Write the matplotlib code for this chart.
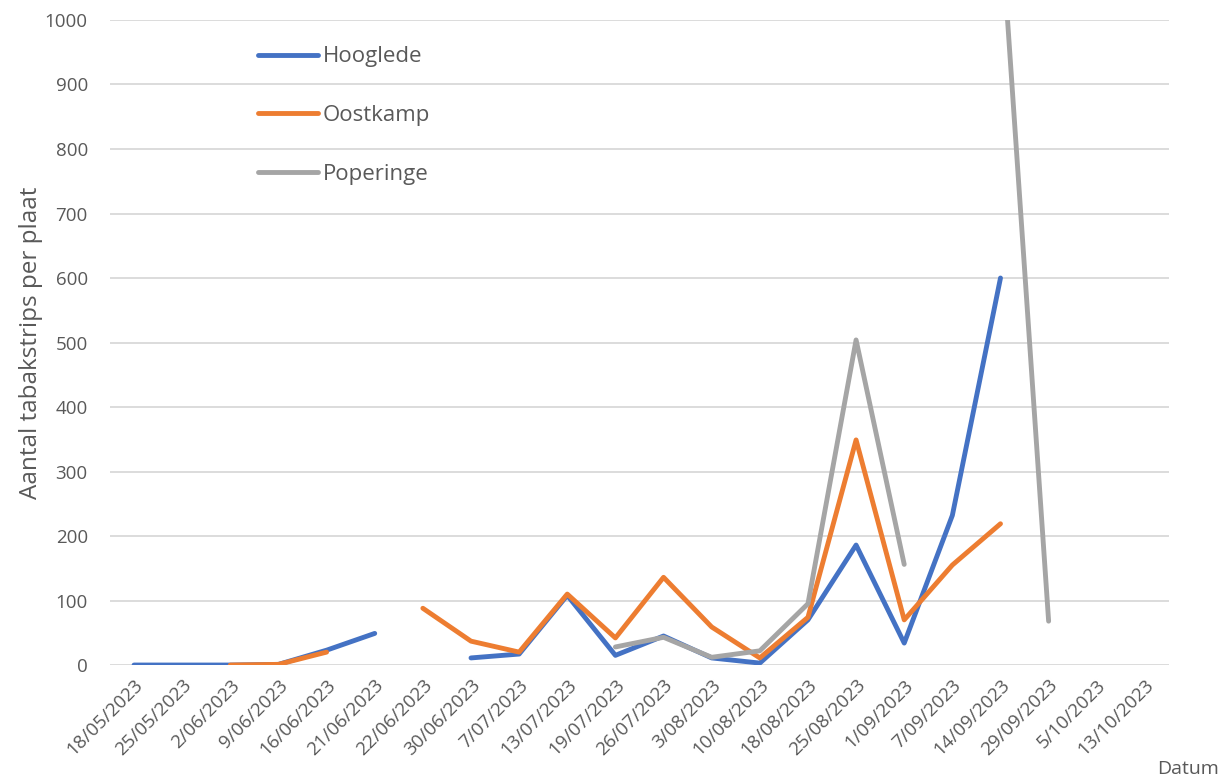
import numpy as np
import matplotlib
matplotlib.use("Agg")
import matplotlib.pyplot as plt

plt.rcParams['font.family'] = ['Open Sans', 'DejaVu Sans']

dates = ["18/05/2023", "25/05/2023", "2/06/2023", "9/06/2023", "16/06/2023",
         "21/06/2023", "22/06/2023", "30/06/2023", "7/07/2023", "13/07/2023",
         "19/07/2023", "26/07/2023", "3/08/2023", "10/08/2023", "18/08/2023",
         "25/08/2023", "1/09/2023", "7/09/2023", "14/09/2023", "29/09/2023",
         "5/10/2023", "13/10/2023"]

nan = np.nan
hooglede = [0, 0, 0, 1, 23, 49, nan, 11, 17, 108, 15, 45, 11, 3, 70,
            186, 34, 232, 600, nan, nan, nan]
oostkamp = [nan, nan, 0, 1, 20, nan, 88, 37, 20, 110, 42, 136, 59, 11, 74,
            349, 70, 155, 219, nan, nan, nan]
poperinge = [nan, nan, nan, nan, nan, nan, nan, nan, nan, nan, 28, 43, 12, 22, 95,
             504, 156, nan, 1160, 68, nan, nan]

series = [("Hooglede", hooglede, "#4472C4"),
          ("Oostkamp", oostkamp, "#ED7D31"),
          ("Poperinge", poperinge, "#A5A5A5")]

fig = plt.figure(figsize=(12.22, 7.81), dpi=100)
ax = fig.add_axes([0.090, 0.1485, 0.8666, 0.8259])

x = np.arange(len(dates))
for name, vals, col in series:
    ax.plot(x, np.array(vals, dtype=float), color=col, lw=3.5, label=name,
            solid_capstyle='round', solid_joinstyle='round')

ax.set_xlim(-0.5, len(dates) - 0.5)
ax.set_ylim(0, 1000)
ax.set_yticks(np.arange(0, 1001, 100))
ax.yaxis.grid(True, color="#D9D9D9", lw=1.3)
ax.set_axisbelow(True)
for s in ax.spines.values():
    s.set_visible(False)
ax.tick_params(axis='both', length=0, colors="#595959", labelsize=13.5)
ax.tick_params(axis='y', pad=16)
ax.set_xticks(x)
ax.set_xticklabels(dates, rotation=45, ha='right', va='top', rotation_mode='anchor')
ax.tick_params(axis='x', pad=8)

ax.set_ylabel("Aantal tabakstrips per plaat", color="#595959", fontsize=17.5, labelpad=1)
fig.text(0.972, 0.004, "Datum", color="#595959", fontsize=14, ha='center', va='bottom')

leg = ax.legend(loc='upper left', bbox_to_anchor=(0.121, 0.990), frameon=False,
                fontsize=16, labelspacing=1.7, handlelength=2.7, handletextpad=0.2,
                labelcolor="#595959")

fig.savefig("out.png", dpi=100)
